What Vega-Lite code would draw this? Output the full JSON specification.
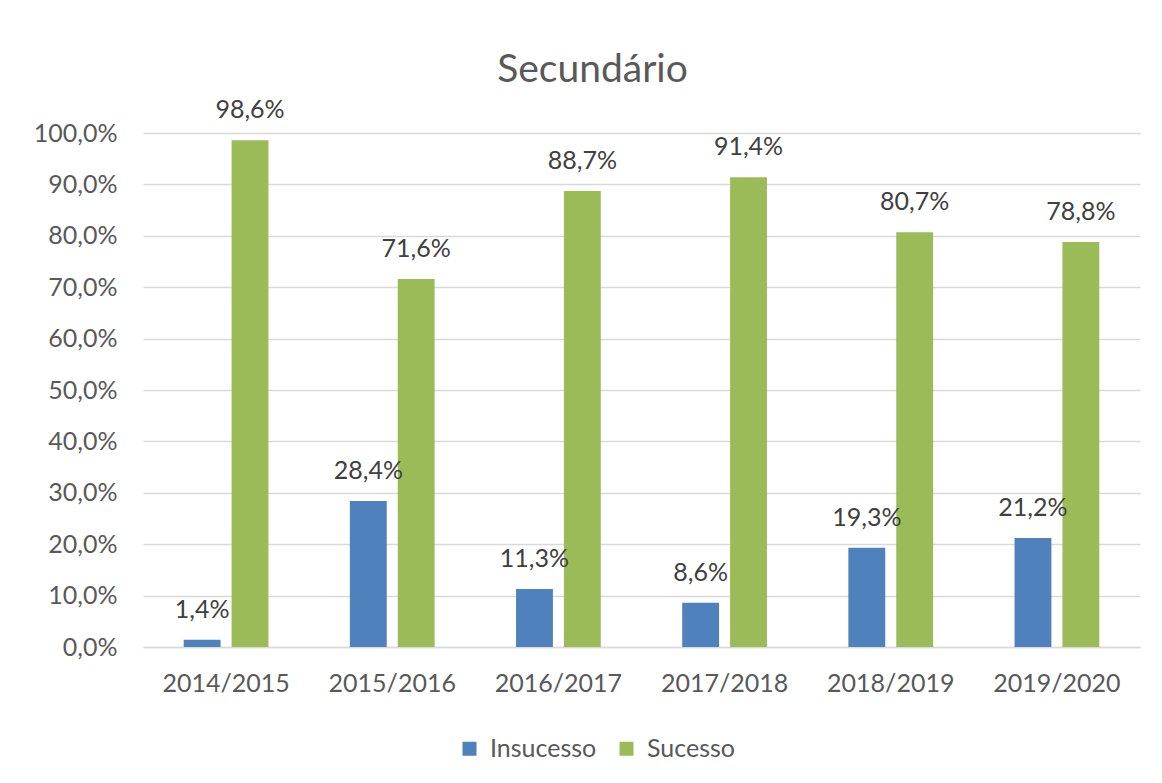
{
  "$schema": "https://vega.github.io/schema/vega-lite/v6.json",
  "width": 997,
  "height": 514,
  "autosize": {"type": "none"},
  "padding": {"left": 143, "top": 133, "right": 22, "bottom": 136},
  "background": "white",
  "config": {
    "locale": {"number": {"decimal": ",", "thousands": ".", "grouping": [3], "currency": ["", " €"]}},
    "font": "Lato",
    "view": {"stroke": null}
  },
  "title": {
    "text": "Secundário",
    "fontSize": 39,
    "font": "Lato",
    "fontWeight": "normal",
    "color": "#595959",
    "anchor": "middle",
    "dx": -49,
    "offset": 8
  },
  "data": {
    "values": [
      {"ano": "2014/2015", "serie": "Insucesso", "valor": 0.014},
      {"ano": "2014/2015", "serie": "Sucesso", "valor": 0.986},
      {"ano": "2015/2016", "serie": "Insucesso", "valor": 0.284},
      {"ano": "2015/2016", "serie": "Sucesso", "valor": 0.716},
      {"ano": "2016/2017", "serie": "Insucesso", "valor": 0.113},
      {"ano": "2016/2017", "serie": "Sucesso", "valor": 0.887},
      {"ano": "2017/2018", "serie": "Insucesso", "valor": 0.086},
      {"ano": "2017/2018", "serie": "Sucesso", "valor": 0.914},
      {"ano": "2018/2019", "serie": "Insucesso", "valor": 0.193},
      {"ano": "2018/2019", "serie": "Sucesso", "valor": 0.807},
      {"ano": "2019/2020", "serie": "Insucesso", "valor": 0.212},
      {"ano": "2019/2020", "serie": "Sucesso", "valor": 0.788}
    ]
  },
  "encoding": {
    "x": {
      "field": "ano",
      "type": "nominal",
      "sort": null,
      "scale": {"paddingInner": 0.49, "paddingOuter": 0.245},
      "axis": {
        "title": null,
        "labelAngle": 0,
        "labelFontSize": 25,
        "labelColor": "#595959",
        "labelPadding": 24,
        "ticks": false,
        "domainColor": "#D9D9D9",
        "domainWidth": 1.5,
        "grid": false
      }
    },
    "xOffset": {
      "field": "serie",
      "type": "nominal",
      "scale": {"paddingInner": 0.23, "paddingOuter": 0}
    },
    "y": {
      "field": "valor",
      "type": "quantitative",
      "scale": {"domain": [0, 1], "nice": false},
      "axis": {
        "title": null,
        "format": ".1%",
        "values": [0, 0.1, 0.2, 0.3, 0.4, 0.5, 0.6, 0.7, 0.8, 0.9, 1.0],
        "labelFontSize": 25,
        "labelColor": "#595959",
        "labelPadding": 26,
        "ticks": false,
        "domain": false,
        "gridColor": "#D9D9D9",
        "gridWidth": 1.5
      }
    }
  },
  "layer": [
    {
      "mark": {"type": "bar"},
      "encoding": {
        "color": {
          "field": "serie",
          "type": "nominal",
          "scale": {"domain": ["Insucesso", "Sucesso"], "range": ["#4F81BD", "#9BBB59"]},
          "legend": {
            "title": null,
            "orient": "none",
            "direction": "horizontal",
            "legendX": 314,
            "legendY": 603,
            "symbolType": "square",
            "symbolSize": 196,
            "symbolStrokeWidth": 0,
            "labelFontSize": 25,
            "labelColor": "#595959",
            "columnPadding": 17,
            "labelOffset": 8
          }
        }
      }
    },
    {
      "mark": {"type": "text", "baseline": "alphabetic", "dy": -22, "fontSize": 25, "color": "#404040"},
      "encoding": {
        "text": {"field": "valor", "type": "quantitative", "format": ".1%"}
      }
    }
  ]
}
